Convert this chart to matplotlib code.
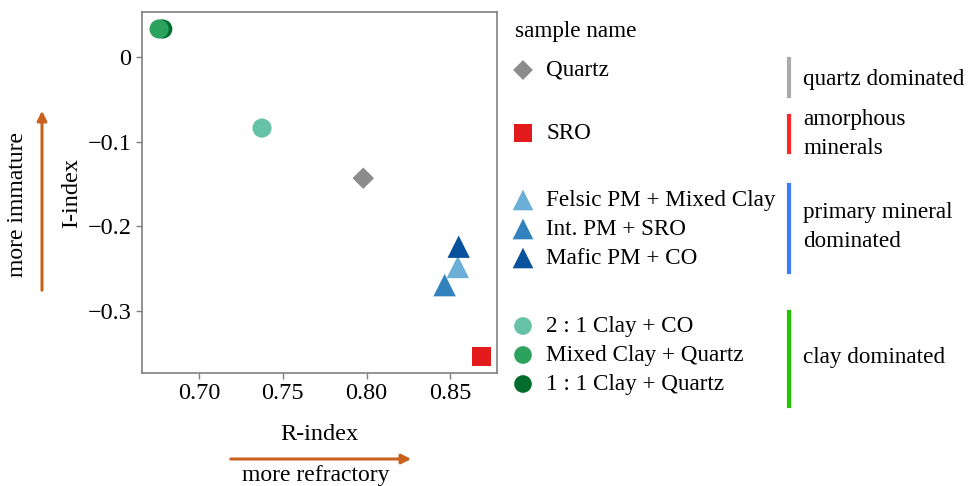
import matplotlib.pyplot as plt
from matplotlib.lines import Line2D

plt.rcParams['font.family'] = ['Liberation Serif', 'DejaVu Serif']

# sample data
sample_names = ["Quartz", "SRO", "Felsic PM + Mixed Clay", "Int. PM + SRO",
                "Mafic PM + CO", "2 : 1 Clay + CO", "Mixed Clay + Quartz",
                "1 : 1 Clay + Quartz"]
r_index = [0.798, 0.8685, 0.8545, 0.8466, 0.855, 0.7375, 0.6760, 0.6782]
i_index = [-0.143, -0.354, -0.248, -0.2695, -0.224, -0.0837, 0.0335, 0.0335]
markers = ["D", "s", "^", "^", "^", "o", "o", "o"]
colors = ["#8c8c8c", "#e31a1c", "#6baed6", "#3182bd", "#08519c",
          "#66c2a4", "#2ca25f", "#006d2c"]
sizes = [120, 190, 260, 260, 260, 190, 190, 190]

groups = ["quartz dominated", "amorphous\nminerals",
          "primary mineral\ndominated", "clay dominated"]
group_colors = ["#aaaaaa", "#ff2626", "#3a7dff", "#22c400"]

fig = plt.figure(figsize=(9.71, 4.86), dpi=100)
W, H = 971, 486


def px_rect(x0, y0, x1, y1):
    return [x0 / W, 1 - y1 / H, (x1 - x0) / W, (y1 - y0) / H]


ax = fig.add_axes(px_rect(142, 12, 497, 373))
# darker green drawn first so it sits behind
order = [0, 1, 2, 3, 4, 5, 7, 6]
for i in order:
    ax.scatter(r_index[i], i_index[i], marker=markers[i], s=sizes[i],
               color=colors[i], edgecolors='none', zorder=3)

ax.set_xlim(0.6658, 0.8779)
ax.set_ylim(-0.3734, 0.0536)
ax.set_xticks([0.70, 0.75, 0.80, 0.85])
ax.set_xticklabels(["0.70", "0.75", "0.80", "0.85"])
ax.set_yticks([0, -0.1, -0.2, -0.3])
ax.set_yticklabels(["0", "\u22120.1", "\u22120.2", "\u22120.3"])
ax.tick_params(labelsize=17.5, color='#7f7f7f', length=4, width=1)
for sp in ax.spines.values():
    sp.set_color('#7f7f7f')
    sp.set_linewidth(1.2)
ax.set_xlabel("R-index", fontsize=17.5, labelpad=14)
ax.set_ylabel("I-index", fontsize=17.5, labelpad=4)

# overlay axes in pixel coords for arrows and legend
ov = fig.add_axes([0, 0, 1, 1])
ov.set_xlim(0, W)
ov.set_ylim(H, 0)
ov.axis('off')

arrow_col = '#c8621e'
ov.annotate("", xy=(414, 459), xytext=(228, 459),
            arrowprops=dict(arrowstyle='-|>', color=arrow_col, lw=2.2,
                            mutation_scale=14))
ov.text(316, 475, "more refractory", fontsize=17, ha='center', va='center')
ov.annotate("", xy=(42, 108), xytext=(42, 293),
            arrowprops=dict(arrowstyle='-|>', color=arrow_col, lw=2.2,
                            mutation_scale=14))
ov.text(18, 204, "more immature", fontsize=17, ha='center', va='center',
        rotation=90)

# legend
ov.text(515, 31, "sample name", fontsize=16.7, ha='left', va='center')
legend_y = [70, 133, 200, 229, 258, 326, 355, 384]
for i, name in enumerate(sample_names):
    ov.scatter(523, legend_y[i], marker=markers[i], s=sizes[i] * 0.85,
               color=colors[i], edgecolors='none')
    ov.text(546, legend_y[i], name, fontsize=16.7, ha='left', va='center')

bar_spans = [(59, 96), (116, 152), (185, 272), (312, 406)]
text_y = [79, 134, 227, 357]
for i, g in enumerate(groups):
    y0, y1 = bar_spans[i]
    ov.add_line(Line2D([789, 789], [y0, y1], color=group_colors[i], lw=3))
    ov.text(803, text_y[i], g, fontsize=16.7, ha='left', va='center',
            linespacing=1.45)

fig.savefig("out.png", dpi=100)
